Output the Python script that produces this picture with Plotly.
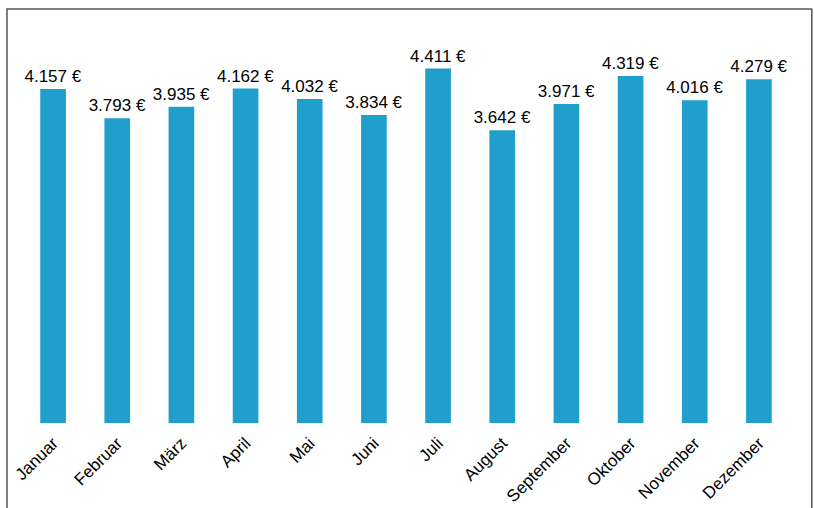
import plotly.graph_objects as go

monate = ["Januar", "Februar", "März", "April", "Mai", "Juni", "Juli",
          "August", "September", "Oktober", "November", "Dezember"]
umsatz = [4157, 3793, 3935, 4162, 4032, 3834, 4411, 3642, 3971, 4319, 4016, 4279]

fig = go.Figure()

fig.add_trace(
    go.Bar(
        x=monate,
        y=umsatz,
        marker=dict(color="#209fcd", line=dict(width=0)),
        width=0.4,
        texttemplate="%{y:,.0f} €",
        textposition="outside",
        textfont=dict(size=17, color="black"),
        constraintext="none",
        cliponaxis=False,
        hoverinfo="skip"
    )
)

fig.update_layout(
    width=814,
    height=508,
    margin=dict(l=21, r=23, t=20, b=85, autoexpand=False),
    separators=",.",
    paper_bgcolor="white",
    plot_bgcolor="white",
    font=dict(family="Liberation Sans, Arial, sans-serif", color="black"),
    showlegend=False,
    xaxis=dict(
        tickangle=-45,
        tickfont=dict(size=17, color="black"),
        ticklabelstandoff=6,
        showgrid=False,
        showline=False,
        ticks="",
        automargin=False
    ),
    yaxis=dict(
        range=[0, 5015],
        visible=False,
        showgrid=False,
        automargin=False
    ),
    shapes=[
        dict(
            type="rect",
            xref="paper", yref="paper",
            x0=-0.0182, x1=1.027, y0=-0.25, y1=1.027,
            line=dict(color="#555555", width=1.5),
            layer="below"
        )
    ]
)

# Seite ohne Rand, damit das Diagramm bei (0,0) beginnt
fig.write_html(
    "out.html",
    config={"displayModeBar": False},
    post_script="document.body.style.margin='0px';"
)
